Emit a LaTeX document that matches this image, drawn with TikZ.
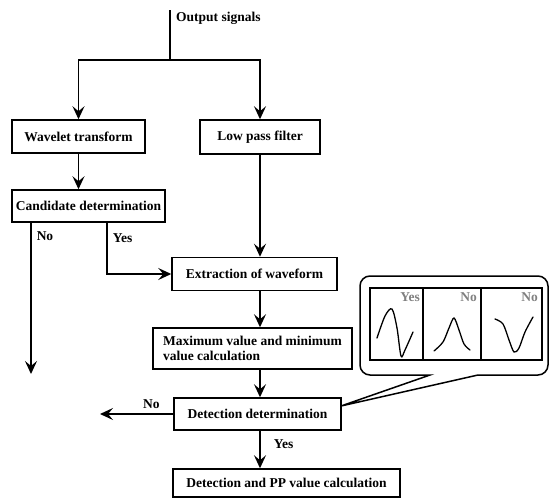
\documentclass[tikz,border=0pt]{standalone}
\usepackage{fontspec}
\setmainfont{Liberation Serif}
\usetikzlibrary{arrows.meta}

\begin{document}
\begin{tikzpicture}[x=1pt, y=-1pt,
            block/.style={draw, rectangle, line width=1.5pt, inner sep=0pt, align=center, font=\fontsize{13.5}{15.5}\selectfont\bfseries},
            lbl/.style={inner sep=0pt, font=\fontsize{13.5}{15.5}\selectfont\bfseries},
            tag/.style={inner sep=0pt, anchor=north east, text=black!50, font=\fontsize{13.5}{15.5}\selectfont\bfseries},
            wave/.style={line width=1.3pt, line cap=round},
            line/.style={line width=1.5pt},
            arrow/.style={line width=1.5pt, -{Stealth[length=13pt, width=12pt, inset=5pt]}}]

            \useasboundingbox (0,0) rectangle (549,498);

            % Row 1
            \coordinate (src) at (170,10);
            \coordinate (split) at (170,60);
            \coordinate (col) at (260,0);
            \node (outlbl) [lbl, anchor=west] at (176,18) {Output signals};
            \node (wavelet) [block, minimum width=133pt, minimum height=33pt] at (78.5,136.5) {Wavelet transform};
            \node (lpf) [block, minimum width=120pt, minimum height=34pt] at (260,137) {Low pass filter};

            % Row 2
            \node (cand) [block, minimum width=153pt, minimum height=32pt] at (88.5,206) {Candidate determination};
            \node (extr) [block, minimum width=165pt, minimum height=33pt] at (254.5,274) {Extraction of waveform};
            \coordinate (noend) at (31,374);

            % Row 3
            \node (maxv) [block, align=left, minimum width=199pt, minimum height=41pt] at (252.5,348.5) {Maximum value and minimum\\value calculation};
            \node (det) [block, minimum width=167pt, minimum height=32pt] at (257.5,414) {Detection determination};
            \coordinate (detno) at (100,414);
            \node (pp) [block, minimum width=227pt, minimum height=28pt] at (286.5,483) {Detection and PP value calculation};

            % Connections
            \draw [line] (src) -- (split);
            \draw [arrow] (split) -| (wavelet.north);
            \draw [arrow] (split) -| (lpf.north);
            \draw [arrow] (wavelet.south) -- (wavelet |- cand.north);
            \draw [arrow] (lpf.south) -- (col |- extr.north);
            \draw [arrow] (cand.south -| noend) -- node[lbl, pos=0.09, right=5pt] {No} (noend);
            \draw [arrow] (cand.south -| 107,0) -- node[lbl, pos=0.3, right=5pt] {Yes} (107,274) -- (extr.west);
            \draw [arrow] (col |- extr.south) -- (col |- maxv.north);
            \draw [arrow] (col |- maxv.south) -- (col |- det.north);
            \draw [arrow] (det.west) -- node[lbl, above=5pt, pos=0.3] {No} (detno);
            \draw [arrow] (col |- det.south) -- node[lbl, right=13pt, pos=0.35] {Yes} (col |- pp.north);

            % Waveform callout
            \draw [line] (341,406) -- (478,375) [rounded corners=10pt] -- (548,375) -- (548,276) -- (360,276) -- (360,375) [sharp corners] -- (430,375) -- cycle;
            \node (cells) [draw, line width=1.5pt, inner sep=0pt, minimum width=172pt, minimum height=72pt] at (456,324) {};
            \draw [line] (423,288) -- (423,360);
            \draw [line] (481,288) -- (481,360);
            \node (tyes) [tag] at (420,292) {Yes};
            \node (tno1) [tag] at (477,292) {No};
            \node (tno2) [tag] at (538,292) {No};
            \draw [wave] plot[smooth] coordinates {(377,338) (385,316) (392,309) (397,328) (401,356) (405,350) (413,332)};
            \draw [wave] plot[smooth] coordinates {(434,351) (443,342) (449,328) (454,318) (459,330) (464,344) (470,350)};
            \draw [wave] plot[smooth] coordinates {(495,319) (503,324) (509,340) (514,352) (519,348) (525,332) (533,317)};
        \end{tikzpicture}
\end{document}
